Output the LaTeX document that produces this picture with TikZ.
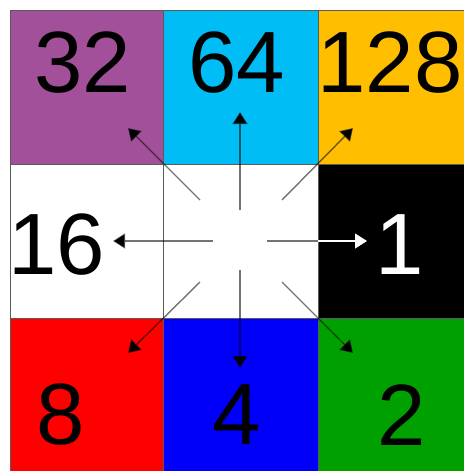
\documentclass[tikz,border=0pt]{standalone}
\usepackage{fontspec}
\setmainfont{Liberation Sans}
\usetikzlibrary{arrows.meta}
\definecolor{cpurple}{RGB}{163,80,155}
\definecolor{ccyan}{RGB}{0,190,245}
\definecolor{corange}{RGB}{255,190,0}
\definecolor{cred}{RGB}{255,0,0}
\definecolor{cblue}{RGB}{0,0,250}
\definecolor{cgreen}{RGB}{0,160,0}
\definecolor{cgrid}{RGB}{90,90,90}
\begin{document}
\begin{tikzpicture}[x=1pt,y=-1pt,
  cell/.style={draw=cgrid,line width=0.8pt},
  num/.style={inner sep=0pt,font=\fontsize{87}{87}\selectfont},
  arr/.style={draw=black,draw opacity=0.55,line width=1.4pt,-{Triangle[length=12pt,width=15pt,fill=black]}}]
\useasboundingbox (0,0) rectangle (463,471);
% cells
\path[cell,fill=cpurple] (10,10) rectangle (163,164);
\path[cell,fill=ccyan] (163,10) rectangle (318,164);
\path[cell,fill=corange] (318,10) rectangle (470,164);
\path[cell,fill=white] (10,164) rectangle (163,318);
\path[cell,fill=white] (163,164) rectangle (318,318);
\path[cell,fill=black] (318,164) rectangle (470,318);
\path[cell,fill=cred] (10,318) rectangle (163,480);
\path[cell,fill=cblue] (163,318) rectangle (318,480);
\path[cell,fill=cgreen] (318,318) rectangle (470,480);
% numbers
\node[num] (n32) at (83,63) {32};
\node[num] (n64) at (237,63) {64};
\node[num] (n128) at (390,63) {128};
\node[num] (n16) at (57,245) {16};
\node[num,text=white] (n1) at (400,245) {1};
\node[num] (n8) at (61,415) {8};
\node[num] (n4) at (237,415) {4};
\node[num] (n2) at (402,415) {2};
% arrow end points
\coordinate (c) at (240,240);
\coordinate (sN) at (240,210); \coordinate (eN) at (240,112);
\coordinate (sS) at (240,270); \coordinate (eS) at (240,368);
\coordinate (sW) at (213,241); \coordinate (eW) at (113,241);
\coordinate (sE) at (267,241); \coordinate (mE) at (318,241); \coordinate (eE) at (367,241);
\coordinate (sNW) at (200,200); \coordinate (eNW) at (128,128);
\coordinate (sNE) at (282,200); \coordinate (eNE) at (353,128);
\coordinate (sSW) at (200,282); \coordinate (eSW) at (128,353);
\coordinate (sSE) at (282,282); \coordinate (eSE) at (353,353);
\draw[arr] (sN) -- (eN);
\draw[arr] (sS) -- (eS);
\draw[arr] (sW) -- (eW);
\draw[draw=black,draw opacity=0.55,line width=1.4pt] (sE) -- (mE);
\draw[draw=white,line width=1.4pt,-{Triangle[length=12pt,width=15pt,fill=white]}] (mE) -- (eE);
\draw[arr] (sNW) -- (eNW);
\draw[arr] (sNE) -- (eNE);
\draw[arr] (sSW) -- (eSW);
\draw[arr] (sSE) -- (eSE);
\end{tikzpicture}
\end{document}
